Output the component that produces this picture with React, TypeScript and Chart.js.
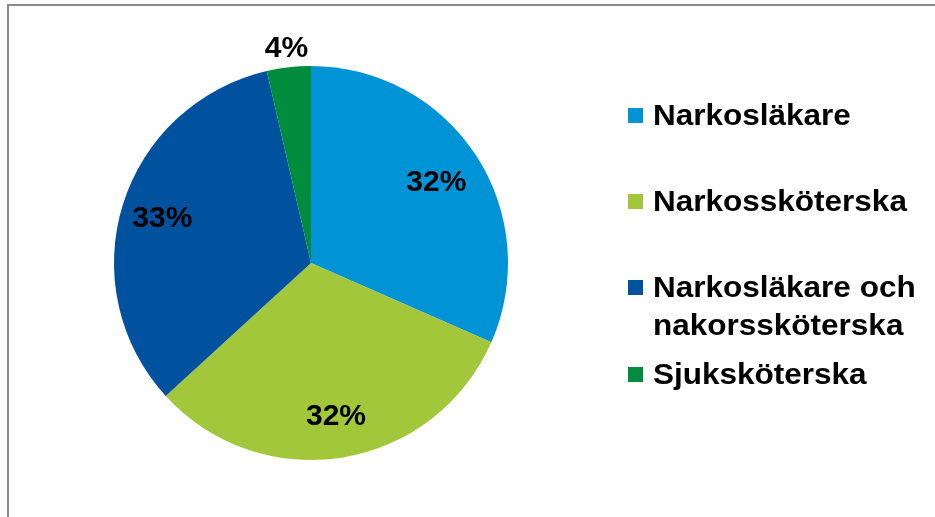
import React, { useEffect, useRef } from "react";
import { Chart, registerables } from "chart.js";

Chart.register(...registerables);

const categories = [
  "Narkosläkare",
  "Narkossköterska",
  "Narkosläkare och nakorssköterska",
  "Sjuksköterska",
];
const shares = [31.6, 31.6, 33.2, 3.6];
const sliceColors = ["#0093D6", "#A2C73B", "#00519E", "#008C3C"];

const FONT = '"Liberation Sans", Arial, Helvetica, sans-serif';

const framePlugin = {
  id: "frame",
  beforeDraw(chart: any) {
    const ctx = chart.ctx;
    ctx.save();
    ctx.fillStyle = "#ffffff";
    ctx.fillRect(0, 0, chart.width, chart.height);
    ctx.strokeStyle = "#8a8a8a";
    ctx.lineWidth = 2;
    ctx.beginPath();
    ctx.moveTo(8, chart.height + 5);
    ctx.lineTo(8, 5);
    ctx.lineTo(chart.width + 5, 5);
    ctx.stroke();
    ctx.restore();
  },
};

const sliceLabelPlugin = {
  id: "sliceLabels",
  afterDatasetsDraw(chart: any, _args: any, opts: any) {
    const ctx = chart.ctx;
    const meta = chart.getDatasetMeta(0);
    const values: number[] = chart.data.datasets[0].data;
    const total = values.reduce((a, b) => a + b, 0);
    ctx.save();
    ctx.font = `bold ${opts.size}px ${FONT}`;
    ctx.fillStyle = "#000";
    ctx.textAlign = "center";
    ctx.textBaseline = "middle";
    meta.data.forEach((arc: any, i: number) => {
      const p = arc.getProps(["x", "y", "startAngle", "endAngle", "outerRadius"], true);
      const mid = (p.startAngle + p.endAngle) / 2;
      const f = opts.radiusFactors[i];
      const x = p.x + Math.cos(mid) * p.outerRadius * f;
      const y = p.y + Math.sin(mid) * p.outerRadius * f;
      const txt = Math.round((values[i] / total) * 100) + "%";
      ctx.fillText(txt, x, y + 2);
    });
    ctx.restore();
  },
};

const sideLegendPlugin = {
  id: "sideLegend",
  afterDraw(chart: any, _args: any, opts: any) {
    const ctx = chart.ctx;
    const labels: string[] = chart.data.labels;
    const colors: string[] = chart.data.datasets[0].backgroundColor;
    ctx.save();
    ctx.font = `bold ${opts.size}px ${FONT}`;
    ctx.textBaseline = "alphabetic";
    ctx.textAlign = "left";
    labels.forEach((label, i) => {
      const words = label.split(" ");
      const lines: string[] = [];
      let cur = "";
      words.forEach((w) => {
        const test = cur ? cur + " " + w : w;
        if (cur && ctx.measureText(test).width * opts.scaleX > opts.maxWidth) {
          lines.push(cur);
          cur = w;
        } else cur = test;
      });
      if (cur) lines.push(cur);
      const base = opts.baselines[i];
      ctx.fillStyle = colors[i];
      ctx.fillRect(opts.boxX, base - opts.boxOffset, opts.boxSize, opts.boxSize);
      ctx.fillStyle = "#000";
      lines.forEach((ln, j) => {
        ctx.save();
        ctx.translate(opts.textX, base + j * opts.lineHeight);
        ctx.scale(opts.scaleX, 1);
        ctx.fillText(ln, 0, 0);
        ctx.restore();
      });
    });
    ctx.restore();
  },
};

export default function App() {
  const ref = useRef<HTMLCanvasElement | null>(null);
  useEffect(() => {
    if (!ref.current) return;
    const chart = new Chart(ref.current, {
      type: "pie",
      data: {
        labels: categories,
        datasets: [
          {
            data: shares,
            backgroundColor: sliceColors,
            borderWidth: 0,
          },
        ],
      },
      options: {
        responsive: false,
        animation: false,
        devicePixelRatio: 1,
        layout: { padding: { left: 114, right: 427, top: 66, bottom: 57 } },
        plugins: {
          legend: { display: false },
          tooltip: { enabled: false },
          sliceLabels: { size: 30, radiusFactors: [0.76, 0.78, 0.79, 1.105] },
          sideLegend: {
            size: 30,
            scaleX: 1.05,
            maxWidth: 272,
            boxX: 628,
            boxSize: 15,
            boxOffset: 17,
            textX: 653,
            lineHeight: 38,
            baselines: [125, 211, 297, 384],
          },
        } as any,
      },
      plugins: [framePlugin, sliceLabelPlugin, sideLegendPlugin],
    });
    return () => chart.destroy();
  }, []);
  return (
    <div style={{ position: "absolute", left: 0, top: 0, width: 935, height: 517 }}>
      <canvas ref={ref} width={935} height={517} />
    </div>
  );
}
